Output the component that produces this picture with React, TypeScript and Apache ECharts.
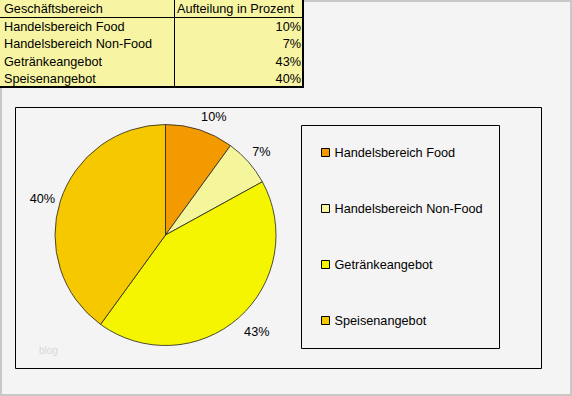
import React, { useEffect, useRef } from "react";
import * as echarts from "echarts";

const categories = ["Handelsbereich Food", "Handelsbereich Non-Food", "Getränkeangebot", "Speisenangebot"];
const shares = [10, 7, 43, 40];
const sliceColors = ["#f39a00", "#f5f59c", "#f5f500", "#f5c800"];
const tableHeaders = ["Geschäftsbereich", "Aufteilung in Prozent"];
const labelOffsets = [[8, 6], [-2, 3], [5, -1], [1, 4]];

const FONT = "'Liberation Sans', Arial, sans-serif";
const FS = 12.7;

function buildTable(): any[] {
  const els: any[] = [];
  els.push({ type: "rect", z: 1, shape: { x: 0, y: 0, width: 304, height: 88 }, style: { fill: "#f7f5a3" } });
  const txt = (t: string, x: number, y: number, align: string) => ({
    type: "text",
    z: 3,
    x,
    y,
    style: { text: t, fill: "#000", fontSize: FS, fontFamily: FONT, align, verticalAlign: "middle" },
  });
  els.push(txt(tableHeaders[0], 4, 9, "left"));
  els.push(txt(tableHeaders[1], 177, 9, "left"));
  categories.forEach((c, i) => {
    const y = 26.5 + i * 17.5;
    els.push(txt(c, 4, y, "left"));
    els.push(txt(shares[i] + "%", 301, y, "right"));
  });
  const line = (x1: number, y1: number, x2: number, y2: number, w: number) => ({
    type: "line",
    z: 2,
    shape: { x1, y1, x2, y2 },
    style: { stroke: "#000", lineWidth: w },
  });
  els.push(line(0, 17.5, 304, 17.5, 1));
  els.push(line(174.5, 0, 174.5, 88, 1));
  els.push(line(303, 0, 303, 88, 2));
  els.push(line(0, 87, 304, 87, 2));
  return els;
}

export default function App() {
  const ref = useRef<HTMLDivElement>(null);
  useEffect(() => {
    if (!ref.current) return;
    const chart = echarts.init(ref.current, undefined, { renderer: "svg" });
    const pieData = categories.map((n, i) => ({ name: n, value: shares[i], itemStyle: { color: sliceColors[i] } }));
    const ghostData = categories.map((n, i) => ({ name: n, value: shares[i], label: { offset: labelOffsets[i] } }));
    chart.setOption({
      animation: false,
      backgroundColor: "#f4f4f4",
      graphic: [
        { type: "rect", z: 0, shape: { x: 1, y: 1, width: 570, height: 394 }, style: { fill: "#f4f4f4", stroke: "#c8c8c8", lineWidth: 2 } },
        ...buildTable(),
        { type: "rect", z: 1, shape: { x: 15.5, y: 107.5, width: 526, height: 261 }, style: { fill: "none", stroke: "#000", lineWidth: 1 } },
        { type: "rect", z: 1, shape: { x: 301.5, y: 125.5, width: 198, height: 223 }, style: { fill: "none", stroke: "#000", lineWidth: 1 } },
        { type: "text", z: 1, x: 39, y: 350, style: { text: "blog", fill: "#d9d9d9", fontSize: 10, fontFamily: FONT, verticalAlign: "middle" } },
      ],
      legend: {
        orient: "vertical",
        left: 321,
        top: 146,
        padding: 0,
        itemWidth: 8,
        itemHeight: 8,
        itemGap: 43,
        icon: "rect",
        selectedMode: false,
        itemStyle: { borderColor: "#000", borderWidth: 1 },
        textStyle: { fontSize: FS, fontFamily: FONT, color: "#000" },
        data: categories.map((n, i) => ({ name: n, itemStyle: { color: sliceColors[i], borderColor: "#000", borderWidth: 1 } })),
      },
      series: [
        {
          type: "pie",
          center: [165.5, 235],
          radius: [0, 110.5],
          startAngle: 90,
          clockwise: true,
          silent: true,
          avoidLabelOverlap: false,
          data: pieData,
          itemStyle: { borderColor: "#222", borderWidth: 0.8 },
          label: { show: false },
          labelLine: { show: false },
          emphasis: { disabled: true },
        },
        {
          type: "pie",
          center: [165.5, 235],
          radius: [100, 155],
          startAngle: 90,
          clockwise: true,
          silent: true,
          avoidLabelOverlap: false,
          data: ghostData,
          itemStyle: { color: "rgba(0,0,0,0)", borderWidth: 0 },
          label: { show: true, position: "inside", formatter: "{c}%", fontSize: FS, fontFamily: FONT, color: "#000" },
          labelLine: { show: false },
          emphasis: { disabled: true },
        },
      ],
    });
    return () => chart.dispose();
  }, []);
  return <div ref={ref} style={{ position: "absolute", left: 0, top: 0, width: 572, height: 396 }} />;
}
